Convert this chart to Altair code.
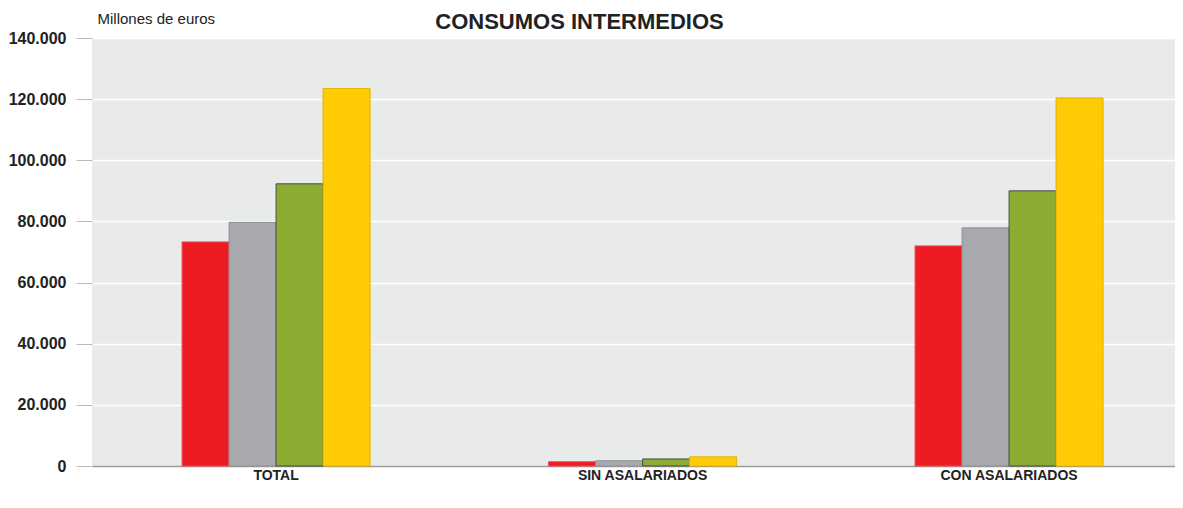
import altair as alt
import pandas as pd

categories = ["TOTAL", "SIN ASALARIADOS", "CON ASALARIADOS"]
series = ["2008", "2012", "2016", "2020"]
values = {
    "2008": [73300, 1400, 72000],
    "2012": [79700, 1700, 77900],
    "2016": [92300, 2300, 90000],
    "2020": [123500, 3000, 120400],
}
fill_colors = ["#ED1C24", "#A7A9AC", "#8AAC31", "#FFCB05"]
stroke_colors = ["#F04A50", "#8E9093", "#4A4A4A", "#E2B300"]

rows = []
for s in series:
    for c, v in zip(categories, values[s]):
        rows.append({"categoria": c, "serie": s, "valor": v})
df = pd.DataFrame(rows)

bars = alt.Chart(df).mark_bar(strokeWidth=1).encode(
    x=alt.X("categoria:N", sort=categories,
            scale=alt.Scale(paddingInner=0.487, paddingOuter=0.221, align=0.556),
            axis=alt.Axis(title=None, labelAngle=0, labelFont="Liberation Sans",
                          labelFontWeight="bold", labelFontSize=14, labelColor="#222222",
                          ticks=False, domainColor="#9A9A9A", domainWidth=1.5,
                          labelPadding=2)),
    xOffset=alt.XOffset("serie:N", sort=series, scale=alt.Scale(paddingInner=0, paddingOuter=0)),
    y=alt.Y("valor:Q", scale=alt.Scale(domain=[0, 140000], nice=False),
            axis=alt.Axis(title="Millones de euros", titleAngle=0, titleAlign="left",
                          titleBaseline="bottom", titleX=5, titleY=-12,
                          titleFont="Liberation Sans", titleFontWeight="normal",
                          titleFontSize=15, titleColor="#222222",
                          values=[0, 20000, 40000, 60000, 80000, 100000, 120000, 140000],
                          labelExpr="replace(format(datum.value, ',d'), /,/g, '.')",
                          labelFont="Liberation Sans", labelFontWeight="bold",
                          labelFontSize=16, labelColor="#222222", labelPadding=10,
                          tickSize=16, tickColor="#BBBBBB", domain=False,
                          gridColor="#FFFFFF", gridWidth=1.5)),
    color=alt.Color("serie:N", sort=series, scale=alt.Scale(domain=series, range=fill_colors), legend=None),
    stroke=alt.Stroke("serie:N", sort=series, scale=alt.Scale(domain=series, range=stroke_colors), legend=None),
)

chart = bars.properties(
    width=1083,
    height=428,
    background="white",
    title=alt.TitleParams("CONSUMOS INTERMEDIOS", font="Liberation Sans", fontSize=22,
                          fontWeight="bold", color="#222222", anchor="middle", dx=-54,
                          dy=23, offset=0),
    autosize=alt.AutoSizeParams(type="none"),
    padding={"left": 84, "top": 30, "right": 0, "bottom": 34},
).configure_view(fill="#E9EAEA", strokeWidth=0)

chart.save("out.html", embed_options={"renderer": "svg", "actions": False})
